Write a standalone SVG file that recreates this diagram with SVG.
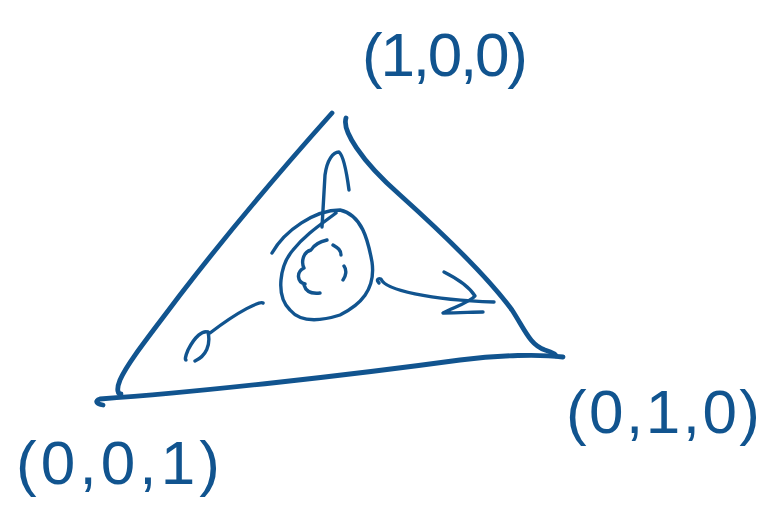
<svg xmlns="http://www.w3.org/2000/svg" width="773" height="507" viewBox="0 0 773 507">
<style>
.s{fill:none;stroke:#11548f;stroke-linecap:round;stroke-linejoin:round}
.t{stroke-width:4.8}
.m{stroke-width:3.4}
.lbl{font-family:"Liberation Sans",Arial,sans-serif;font-size:62px;fill:#11548f}
</style>
<rect width="773" height="507" fill="#ffffff"/>
<g id="triangle">
<path class="s t" d="M332,113 C290,160 230,230 180,295 C150,335 128,362 120,380 C116,390 118,394 121,394"/>
<path class="s t" d="M346,118 C342,130 360,160 400,195 C450,240 490,280 512,310 C525,330 530,345 545,350 C552,352 556,355 556,356"/>
<path class="s t" d="M103,405 C97,404 94,401 100,399 C200,392 350,375 460,360 C500,355 540,354 563,357"/>
</g>
<g id="center">
<path class="s m" d="M272,253 C285,230 315,210 340,210 C362,215 368,240 372,262 C376,290 360,305 340,315 C318,322 300,322 290,310 C275,295 280,265 293,250 C305,235 320,225 336,213"/>
<path class="s m" d="M327,240 C318,242 314,245 311,250 C303,252 301,262 304,268 C296,272 297,282 305,284 M304,285 C306,292 312,294 320,293 M333,245 C338,248 341,250 341,255 M344,266 C347,270 346,276 343,280"/>
</g>
<g id="connectors">
<path class="s m" d="M322,227 L325,175 C327,160 333,152 339,152 C344,156 347,175 349,190"/>
<path class="s m" d="M379,283 C376,280 378,278 381,279 C385,290 430,300 494,302"/>
<path class="s m" d="M444,272 C460,280 470,288 475,296 C470,302 455,307 443,313 C460,313 472,312 483,312"/>
<path class="s m" d="M263,303 C260,301 240,310 210,333 C203,328 194,338 188,350 C185,357 185,360 186,360 M195,361 C206,356 211,345 208,332"/>
</g>
<g id="labels">
<text class="lbl" x="362" y="76" textLength="166" lengthAdjust="spacing">(1,0,0)</text>
<text class="lbl" x="566" y="433" textLength="194" lengthAdjust="spacing">(0,1,0)</text>
<text class="lbl" x="16" y="484" textLength="204" lengthAdjust="spacing">(0,0,1)</text>
</g>
</svg>
